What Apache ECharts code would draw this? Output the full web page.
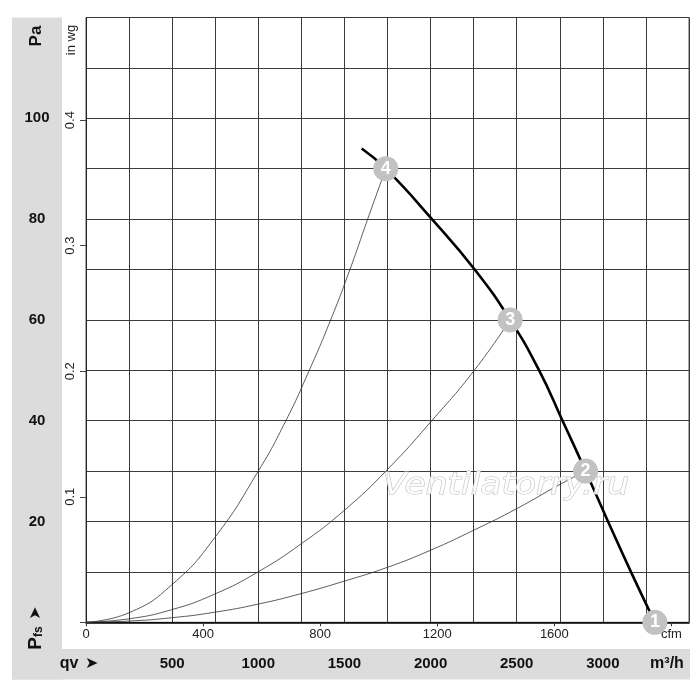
<!DOCTYPE html>
<html>
<head>
<meta charset="utf-8">
<script src="https://cdn.jsdelivr.net/npm/echarts@6/dist/echarts.min.js"></script>
<style>
  html, body { margin: 0; padding: 0; background: #fff; }
  #chart { width: 700px; height: 696px; }
</style>
</head>
<body>
<div id="chart"></div>
<script>
// fan curve and system curves (x = m3/h, y = Pa)
var fanCurve = [[1600, 94], [1740, 90], [2008, 80], [2256, 70], [2462, 60], [2630, 50],
  [2766, 40], [2900, 30], [3030, 20], [3163, 10], [3302, 0]];
var sysCurve4 = [[0, 0], [250, 1.9], [500, 7.5], [747, 16.8], [1000, 30], [1160, 40],
  [1296, 50], [1420, 60], [1532, 70], [1635, 80], [1740, 90]];
var sysCurve3 = [[0, 0], [250, 0.7], [497, 2.5], [747, 5.6], [998, 10], [1250, 15.6],
  [1502, 22.3], [1749, 30.3], [2007, 40], [2254, 50], [2462, 60]];
var sysCurve2 = [[0, 0], [250, 0.25], [497, 0.9], [747, 2], [998, 3.6], [1250, 5.7],
  [1502, 8.2], [1749, 10.9], [2000, 14.3], [2252, 18.3], [2503, 22.6], [2753, 27.4], [2900, 30]];
var opPoints = [[3302, 0], [2900, 30], [2462, 60], [1740, 90]];
var opNames = ["1", "2", "3", "4"];

// tick labels
var m3hTicks = [500, 1000, 1500, 2000, 2500, 3000];
var cfmTicks = [0, 400, 800, 1200, 1600];
var paTicks = [20, 40, 60, 80, 100];
var inwgTicks = [0.1, 0.2, 0.3, 0.4];

var FONT = "Liberation Sans, Arial, sans-serif";
var chart = echarts.init(document.getElementById("chart"));

function sysSeries(data) {
  return {
    type: "line",
    data: data,
    smooth: 0.5,
    showSymbol: false,
    lineStyle: { color: "#333", width: 0.8 },
    z: 3
  };
}

var option = {
  animation: false,
  backgroundColor: "#fff",
  grid: {
    left: 86, top: 17.5, width: 603, height: 604.8,
    show: true, borderColor: "#555", borderWidth: 1
  },
  xAxis: [
    {
      type: "value", position: "bottom", min: 0, max: 3500, interval: 250,
      axisLine: { show: true, lineStyle: { color: "#000", width: 1.5 } },
      axisTick: { show: false },
      splitLine: { show: true, lineStyle: { color: "#3a3a3a", width: 1 } },
      axisLabel: {
        margin: 34, fontFamily: FONT, fontSize: 15, fontWeight: "bold", color: "#111",
        showMinLabel: false, showMaxLabel: false,
        formatter: function (v) { return m3hTicks.indexOf(v) >= 0 ? String(v) : ""; }
      }
    },
    {
      type: "value", position: "bottom", min: 0, max: 3500 / 1.699, interval: 400,
      axisLine: { show: false },
      axisTick: { show: true, length: 4, lineStyle: { color: "#333" } },
      splitLine: { show: false },
      axisLabel: {
        margin: 6, fontFamily: FONT, fontSize: 13, color: "#222",
        showMaxLabel: false,
        formatter: function (v) {
          if (v === 2000) return "cfm";
          return cfmTicks.indexOf(v) >= 0 ? String(v) : "";
        }
      }
    }
  ],
  yAxis: [
    {
      type: "value", position: "left", min: 0, max: 120, interval: 10,
      axisLine: { show: true, lineStyle: { color: "#222", width: 1 } },
      axisTick: { show: false },
      splitLine: { show: true, lineStyle: { color: "#3a3a3a", width: 1 } },
      axisLabel: {
        margin: 49, align: "center", fontFamily: FONT, fontSize: 15, fontWeight: "bold", color: "#111",
        formatter: function (v) { return paTicks.indexOf(v) >= 0 ? String(v) : ""; }
      }
    },
    {
      type: "value", position: "left", min: 0, max: 120 / 249.09, interval: 0.1,
      axisLine: { show: false },
      axisTick: { show: true, length: 6, lineStyle: { color: "#444" } },
      splitLine: { show: false },
      axisLabel: {
        rotate: 90, margin: 9, fontFamily: FONT, fontSize: 13, color: "#222",
        showMaxLabel: false,
        formatter: function (v) {
          var r = Math.round(v * 10) / 10;
          return inwgTicks.indexOf(r) >= 0 && r > 0 ? r.toFixed(1) : "";
        }
      }
    }
  ],
  series: [
    sysSeries(sysCurve4),
    sysSeries(sysCurve3),
    sysSeries(sysCurve2),
    {
      type: "line",
      data: fanCurve,
      smooth: 0.5,
      showSymbol: false,
      lineStyle: { color: "#000", width: 2.6 },
      z: 4
    },
    {
      type: "scatter",
      data: opPoints.map(function (p, i) { return { value: p, name: opNames[i] }; }),
      symbolSize: 25,
      clip: false,
      itemStyle: { color: "#c2c2c2", opacity: 1 },
      label: {
        show: true, position: "inside", formatter: "{b}",
        color: "#fff", fontFamily: FONT, fontSize: 18, fontWeight: "bold"
      },
      z: 20
    }
  ],
  graphic: [
    // grey bands
    { type: "rect", shape: { x: 12, y: 17.5, width: 50, height: 662 }, style: { fill: "#dcdcdc" }, z: -1 },
    { type: "rect", shape: { x: 12, y: 649, width: 678, height: 30.5 }, style: { fill: "#dcdcdc" }, z: -1 },
    {
      type: "text", x: 36, y: 36, rotation: Math.PI / 2,
      style: { text: "Pa", font: "bold 17px " + FONT, fill: "#111", align: "center", verticalAlign: "middle" }
    },
    {
      type: "text", x: 71, y: 40, rotation: Math.PI / 2,
      style: { text: "in wg", font: "13px " + FONT, fill: "#222", align: "center", verticalAlign: "middle" }
    },
    {
      type: "text", x: 36, y: 628, rotation: Math.PI / 2,
      style: {
        text: "{p|P}{s|fs}  {a|➤}", align: "center", verticalAlign: "middle",
        rich: {
          p: { font: "bold 19px " + FONT, fill: "#111" },
          s: { font: "bold 12px " + FONT, fill: "#111", padding: [6, 0, 0, 0] },
          a: { font: "bold 16px DejaVu Sans", fill: "#111" }
        }
      }
    },
    {
      type: "text", x: 79, y: 664,
      style: {
        text: "{q|qv}  {a|➤}", align: "center", verticalAlign: "middle",
        rich: {
          q: { font: "bold 16px " + FONT, fill: "#111" },
          a: { font: "bold 16px DejaVu Sans", fill: "#111" }
        }
      }
    },
    {
      type: "text", x: 667, y: 664,
      style: { text: "m³/h", font: "bold 16px " + FONT, fill: "#111", align: "center", verticalAlign: "middle" }
    },
    // watermark
    {
      type: "text", x: 506, y: 486, scaleX: 1.15, z: 10,
      style: {
        text: "Ventilatorry.ru", font: "italic 30px DejaVu Sans",
        fill: "rgba(255,255,255,0.85)", stroke: "#c2c2c2", lineWidth: 1,
        align: "center", verticalAlign: "middle"
      }
    }
  ]
};

chart.setOption(option);
</script>
</body>
</html>
